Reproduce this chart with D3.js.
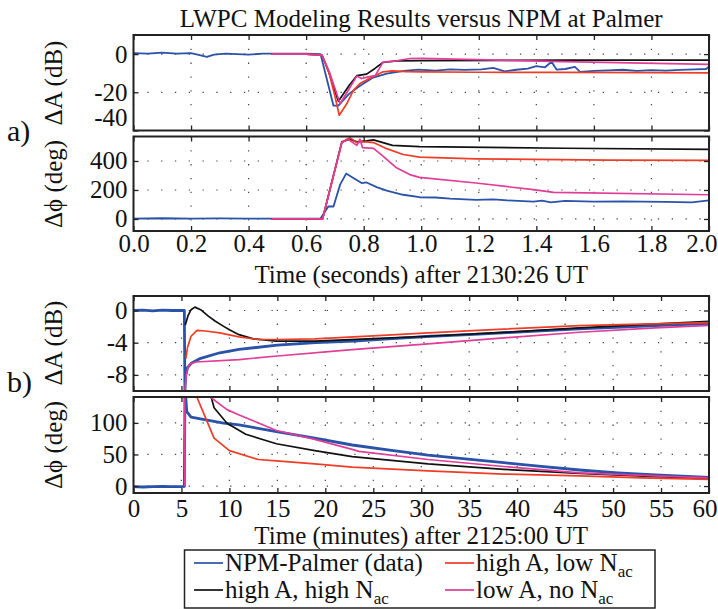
<!DOCTYPE html>
<html>
<head>
<meta charset="utf-8">
<script src="https://cdn.jsdelivr.net/npm/d3@7"></script>
<style>
  body { margin: 0; background: #fff; }
</style>
</head>
<body>
<svg id="fig" width="718" height="609"></svg>
<script>
// ---- datos ----

// a) amplitud (dB), tiempo en segundos
var aDatosT = [0, 0.05, 0.1, 0.15, 0.2, 0.23, 0.255, 0.28, 0.32, 0.36, 0.4, 0.45, 0.5, 0.55, 0.6, 0.65, 0.67, 0.695, 0.712, 0.73, 0.75, 0.79, 0.83, 0.88, 0.94, 0.99, 1.05, 1.1, 1.15, 1.21, 1.25, 1.29, 1.33, 1.37, 1.4, 1.43, 1.453, 1.47, 1.5, 1.534, 1.552, 1.6, 1.65, 1.7, 1.75, 1.8, 1.85, 1.9, 1.95, 1.99, 2.0];
var aDatosA = [0.5, 0.3, 0.8, 0.2, 0.5, -0.5, -1.5, -0.3, 0.3, 0, -0.3, 0.3, 0.2, 0.2, 0.3, 0, -12, -27, -27, -24, -20.7, -16.3, -12.5, -10.2, -8.8, -8.1, -8.6, -8.0, -8.3, -8.0, -7.2, -9.0, -8.2, -7.6, -6.3, -6.9, -4.0, -8.1, -7.8, -6.7, -9.3, -8.8, -8.5, -8.2, -8.8, -8.4, -8.6, -8.3, -8.0, -7.8, -6.5];

var aNegroT = [0.48, 0.6, 0.655, 0.68, 0.712, 0.75, 0.776, 0.81, 0.839, 0.867, 0.914, 1.0, 1.5, 2.0];
var aNegroA = [0, 0, -0.5, -10, -24.7, -16.3, -11.3, -10.5, -7.5, -4.4, -3.5, -3.4, -3.2, -3.2];

var aRojoT = [0.48, 0.6, 0.655, 0.68, 0.7, 0.715, 0.741, 0.764, 0.787, 0.81, 0.833, 0.867, 0.9, 0.95, 1.0, 1.2, 1.5, 1.8, 2.0];
var aRojoA = [0, 0, -0.5, -10, -22, -32, -26, -19, -15.4, -13.5, -11.9, -9.3, -8.8, -9.2, -9.3, -9.5, -9.6, -9.7, -9.8];

var aRosaT = [0.48, 0.6, 0.655, 0.68, 0.718, 0.75, 0.776, 0.793, 0.816, 0.84, 0.867, 0.914, 0.96, 1.0, 1.45, 2.0];
var aRosaA = [0, 0, -0.5, -9, -26, -18, -11.5, -12.8, -11.9, -11.3, -4.2, -3.5, -2.3, -2.2, -3.8, -5.4];

// a) fase (grados)
var aDatosFT = [0, 0.1, 0.2, 0.3, 0.4, 0.5, 0.6, 0.65, 0.677, 0.695, 0.718, 0.739, 0.764, 0.793, 0.81, 0.845, 0.88, 0.937, 0.994, 1.05, 1.1, 1.19, 1.25, 1.3, 1.39, 1.42, 1.45, 1.5, 1.6, 1.7, 1.77, 1.85, 1.94, 2.0];
var aDatosF = [3, 5, 2, 4, 3, 2, 3, 4, 86, 86, 237, 313, 283, 248, 252, 220, 195, 167, 150, 148, 140, 132, 135, 128, 120, 126, 115, 125, 120, 122, 120, 118, 115, 128];

var aNegroFT = [0.48, 0.6, 0.657, 0.724, 0.752, 0.776, 0.81, 0.834, 0.867, 0.9, 0.994, 1.5, 2.0];
var aNegroF = [0, 0, 0, 532, 550, 532, 539, 546, 527, 508, 499, 488, 480];

var aRojoFT = [0.48, 0.6, 0.657, 0.724, 0.741, 0.752, 0.776, 0.8, 0.834, 0.88, 0.937, 0.994, 1.19, 1.65, 2.0];
var aRojoF = [0, 0, 0, 527, 550, 561, 527, 534, 527, 485, 445, 427, 415, 406, 404];

var aRosaFT = [0.48, 0.6, 0.657, 0.724, 0.746, 0.776, 0.787, 0.796, 0.834, 0.867, 0.914, 0.96, 0.994, 1.19, 1.39, 1.46, 2.0];
var aRosaF = [0, 0, 0, 527, 550, 508, 550, 492, 487, 434, 353, 306, 287, 248, 202, 183, 167];

// b) amplitud (dB), tiempo en minutos
var bDatosT = [0, 1, 2, 3, 4, 5, 5.3, 5.36, 5.45, 5.63, 6.03, 7, 9, 11, 15, 19, 23, 27, 31, 35, 39, 43, 47, 51, 55, 60];
var bDatosA = [0, 0.05, -0.05, 0.05, 0, 0, 0, -10, -8, -7.1, -6.55, -5.94, -5.25, -4.84, -4.3, -4.0, -3.8, -3.5, -3.2, -3.0, -2.75, -2.5, -2.25, -2.05, -1.85, -1.64];

var bNegroT = [5.4, 5.7, 6.0, 6.4, 7.0, 7.8, 8.5, 9.4, 10, 11, 12.5, 14.9, 18.9, 25, 30.7, 38, 46.5, 53, 60];
var bNegroA = [-1.8, -0.6, 0.1, 0.42, 0.1, -0.7, -1.3, -1.97, -2.4, -3.0, -3.52, -3.8, -3.8, -3.5, -3.2, -2.75, -2.17, -1.75, -1.35];

var bRojoT = [5.45, 5.63, 6.0, 6.62, 7.5, 9, 11, 12.94, 15, 18.9, 25, 30.7, 38, 46.5, 53, 60];
var bRojoA = [-6.0, -4.6, -3.2, -2.46, -2.55, -2.79, -3.28, -3.6, -3.6, -3.53, -3.15, -2.78, -2.35, -1.88, -1.7, -1.5];

var bRosaT = [5.35, 5.5, 5.7, 6.0, 6.5, 11, 15, 22.8, 30.7, 38.6, 46.5, 54.4, 60];
var bRosaA = [-10, -8, -7.0, -6.6, -6.4, -6.1, -5.65, -4.85, -4.15, -3.4, -2.7, -2.17, -1.84];

// b) fase (grados)
var bDatosFT = [0, 1, 2, 3, 4, 5, 5.3, 5.36, 5.45, 5.55, 6.0, 7.4, 9.4, 11, 14.9, 18.9, 22.8, 26.7, 30.7, 34.6, 38.6, 42.5, 46.5, 50.5, 54.4, 60];
var bDatosF = [-1, -1.5, -1, -0.5, -1, -1, -0.5, 141, 141, 118, 109, 105, 99.5, 97, 86, 76, 65, 57, 49, 43, 37, 31, 25.4, 21, 17.5, 13.8];

var bNegroFT = [8.1, 8.4, 9.75, 11.7, 14.9, 18.9, 22.8, 30.7, 38.6, 46.5, 54.4, 60];
var bNegroF = [141, 124, 99.5, 82, 67, 56, 46.6, 35, 26.5, 20, 14.8, 12.2];

var bRojoFT = [6.6, 8.4, 10, 13, 14.9, 18.9, 22.8, 30.7, 38.6, 46.5, 53, 60];
var bRojoF = [141, 76, 56, 42, 40, 35, 30, 24, 19, 16, 13, 10.6];

var bRosaFT = [5.35, 5.35, null, 8.0, 9.75, 10.96, 14.9, 18.9, 22.8, 23.5, 30.7, 38.6, 46.5, 54.4, 60];
var bRosaF = [0, 141, null, 141, 121, 113, 88, 74, 58, 55, 42, 31, 21, 16, 13];

// ejes
var ticksXa = [0, 0.2, 0.4, 0.6, 0.8, 1.0, 1.2, 1.4, 1.6, 1.8, 2.0];
var ticksXb = [0, 5, 10, 15, 20, 25, 30, 35, 40, 45, 50, 55, 60];
var ticksYa1 = [-40, -20, 0];
var ticksYa2 = [0, 200, 400];
var ticksYb1 = [-8, -4, 0];
var ticksYb2 = [0, 50, 100];

var etiquetas = ["NPM-Palmer (data)", "high A, high N", "high A, low N", "low A, no N"];

// colores
var cAzul = "#2a52a8", cNegro = "#111111", cRojo = "#ee3c26", cRosa = "#e03c98";

// ---- dibujo ----
var fuente = "'Liberation Serif', 'Times New Roman', Times, serif";
var svg = d3.select("#fig").style("font-family", fuente);
var X0 = 133.5, X1 = 709;
var fs = 25;

var xa = d3.scaleLinear().domain([0, 2]).range([X0, X1]);
var xb = d3.scaleLinear().domain([0, 60]).range([X0, X1]);

function pares(t, v) {
  return t.map(function (d, i) { return [d, v[i]]; });
}

function texto(sel) {
  return sel.append("text").style("font-family", fuente).attr("fill", "#111");
}

function panel(id, top, bottom, x, yDom, yTicks, xTicks, xFmt, labPad, series) {
  var y = d3.scaleLinear().domain(yDom).range([bottom, top]);
  var g = svg.append("g").attr("class", "panel-" + id);

  g.append("clipPath").attr("id", "clip-" + id)
    .append("rect").attr("x", X0).attr("y", top).attr("width", X1 - X0).attr("height", bottom - top);

  // rejilla punteada
  var grid = g.append("g").attr("stroke", "#444").attr("stroke-width", 1.2).attr("stroke-dasharray", "1.3,12.5");
  grid.selectAll(".gx").data(xTicks).enter().append("line")
    .attr("x1", function (d) { return x(d); }).attr("x2", function (d) { return x(d); })
    .attr("y1", top).attr("y2", bottom);
  grid.selectAll(".gy").data(yTicks).enter().append("line")
    .attr("y1", function (d) { return y(d); }).attr("y2", function (d) { return y(d); })
    .attr("x1", X0).attr("x2", X1);

  // curvas
  var line = d3.line()
    .defined(function (d) { return d[0] != null && d[1] != null; })
    .x(function (d) { return x(d[0]); })
    .y(function (d) { return y(d[1]); });
  var lg = g.append("g").attr("clip-path", "url(#clip-" + id + ")");
  series.forEach(function (s) {
    lg.append("path").datum(pares(s.t, s.v))
      .attr("d", line).attr("fill", "none")
      .attr("stroke", s.color).attr("stroke-width", s.w)
      .attr("stroke-linejoin", "round");
  });

  // ejes con marcas hacia dentro
  var left = g.append("g").attr("transform", "translate(" + X0 + ",0)")
    .call(d3.axisLeft(y).tickValues(yTicks).tickSizeInner(-5).tickSizeOuter(0).tickPadding(6)
      .tickFormat(function (d) { return String(d); }));
  g.append("g").attr("transform", "translate(" + X1 + ",0)")
    .call(d3.axisRight(y).tickValues(yTicks).tickSizeInner(-5).tickSizeOuter(0).tickFormat(""));
  g.append("g").attr("transform", "translate(0," + top + ")")
    .call(d3.axisTop(x).tickValues(xTicks).tickSizeInner(-5).tickSizeOuter(0).tickFormat(""));
  var bot = g.append("g").attr("transform", "translate(0," + bottom + ")")
    .call(d3.axisBottom(x).tickValues(xTicks).tickSizeInner(-5).tickSizeOuter(0).tickPadding(labPad)
      .tickFormat(xFmt ? xFmt : ""));

  g.selectAll(".domain").remove();
  g.selectAll("g").attr("font-family", null).attr("font-size", null);
  g.selectAll(".tick line").attr("stroke", "#222").attr("stroke-width", 1.3);
  g.selectAll(".tick text").attr("font-size", fs).style("font-family", fuente).attr("fill", "#111");

  // la ultima etiqueta del eje x queda pegada al borde derecho
  var ultimo = xTicks[xTicks.length - 1];
  bot.selectAll(".tick").filter(function (d) { return d === ultimo; })
    .select("text").attr("text-anchor", "end").attr("x", 8);

  g.append("rect").attr("x", X0).attr("y", top).attr("width", X1 - X0).attr("height", bottom - top)
    .attr("fill", "none").attr("stroke", "#222").attr("stroke-width", 2);

  return left;
}

// a) amplitud
var ejeA1 = panel("a1", 35, 130.5, xa, [-40, 10], ticksYa1, ticksXa, null, 3, [
  { t: aDatosT, v: aDatosA, color: cAzul, w: 1.8 },
  { t: aNegroT, v: aNegroA, color: cNegro, w: 1.7 },
  { t: aRojoT, v: aRojoA, color: cRojo, w: 1.7 },
  { t: aRosaT, v: aRosaA, color: cRosa, w: 1.7 }
]);
// la etiqueta -40 va un poco mas arriba en el original
ejeA1.selectAll(".tick").filter(function (d) { return d === -40; })
  .select("text").attr("dy", "-0.2em");

// a) fase
panel("a2", 136.5, 231, xa, [-83, 569], ticksYa2, ticksXa, d3.format(".1f"), 3, [
  { t: aDatosFT, v: aDatosF, color: cAzul, w: 1.8 },
  { t: aNegroFT, v: aNegroF, color: cNegro, w: 1.7 },
  { t: aRojoFT, v: aRojoF, color: cRojo, w: 1.7 },
  { t: aRosaFT, v: aRosaF, color: cRosa, w: 1.7 }
]);

// b) amplitud
panel("b1", 296, 391, xb, [-10, 1.8], ticksYb1, ticksXb, null, 3, [
  { t: bDatosT, v: bDatosA, color: cAzul, w: 2.8 },
  { t: bNegroT, v: bNegroA, color: cNegro, w: 1.7 },
  { t: bRojoT, v: bRojoA, color: cRojo, w: 1.7 },
  { t: bRosaT, v: bRosaA, color: cRosa, w: 1.7 }
]);

// b) fase
panel("b2", 397, 493, xb, [-11, 141], ticksYb2, ticksXb, d3.format("d"), 6, [
  { t: bDatosFT, v: bDatosF, color: cAzul, w: 2.8 },
  { t: bNegroFT, v: bNegroF, color: cNegro, w: 1.7 },
  { t: bRojoFT, v: bRojoF, color: cRojo, w: 1.7 },
  { t: bRosaFT, v: bRosaF, color: cRosa, w: 1.7 }
]);

// textos
var cx = (X0 + X1) / 2;
texto(svg).attr("x", cx).attr("y", 27).attr("text-anchor", "middle").attr("font-size", fs)
  .text("LWPC Modeling Results versus NPM at Palmer");
texto(svg).attr("x", cx).attr("y", 283).attr("text-anchor", "middle").attr("font-size", fs)
  .text("Time (seconds) after 2130:26 UT");
texto(svg).attr("x", cx).attr("y", 544).attr("text-anchor", "middle").attr("font-size", fs)
  .text("Time (minutes) after 2125:00 UT");

function etiquetaY(t, yc) {
  texto(svg).attr("transform", "translate(62," + yc + ") rotate(-90)")
    .attr("text-anchor", "middle").attr("font-size", fs).text(t);
}
etiquetaY("\u0394A (dB)", 83);
etiquetaY("\u0394\u03d5 (deg)", 184);
etiquetaY("\u0394A (dB)", 343);
etiquetaY("\u0394\u03d5 (deg)", 445);

texto(svg).attr("x", 7).attr("y", 141).attr("font-size", 30).text("a)");
texto(svg).attr("x", 7).attr("y", 392).attr("font-size", 30).text("b)");

// leyenda
var ley = svg.append("g");
ley.append("rect").attr("x", 184.5).attr("y", 550).attr("width", 470.5).attr("height", 58)
  .attr("fill", "#fff").attr("stroke", "#222").attr("stroke-width", 1.5);
var entradas = [
  { txt: etiquetas[0], color: cAzul, x: 194, y: 563, sub: false },
  { txt: etiquetas[1], color: cNegro, x: 194, y: 590, sub: true },
  { txt: etiquetas[2], color: cRojo, x: 445, y: 563, sub: true },
  { txt: etiquetas[3], color: cRosa, x: 445, y: 590, sub: true }
];
entradas.forEach(function (e) {
  ley.append("line").attr("x1", e.x).attr("x2", e.x + 29).attr("y1", e.y).attr("y2", e.y)
    .attr("stroke", e.color).attr("stroke-width", 1.7);
  var t = texto(ley).attr("x", e.x + 31).attr("y", e.y + 8).attr("font-size", fs).text(e.txt);
  if (e.sub) {
    t.append("tspan").attr("dy", 6).attr("font-size", 17).text("ac");
  }
});
</script>
</body>
</html>
